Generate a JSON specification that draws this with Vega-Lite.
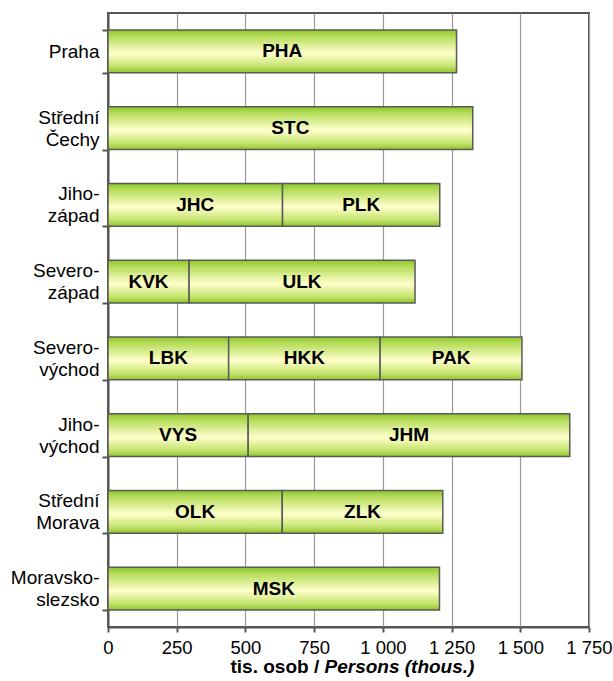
{
  "$schema": "https://vega.github.io/schema/vega-lite/v6.json",
  "width": 481,
  "height": 614,
  "autosize": "none",
  "padding": {"left": 108, "top": 13, "right": 24, "bottom": 54},
  "background": "white",
  "config": {
    "view": {"stroke": "#555555", "strokeWidth": 2},
    "font": "Liberation Sans",
    "axis": {"labelColor": "black", "titleColor": "black", "labelFont": "Liberation Sans", "titleFont": "Liberation Sans"}
  },
  "data": {
    "values": [
      {"region": "Praha", "code": "PHA", "value": 1268, "ord": 1},
      {"region": "Střední|Čechy", "code": "STC", "value": 1327, "ord": 1},
      {"region": "Jiho-|západ", "code": "JHC", "value": 635, "ord": 1},
      {"region": "Jiho-|západ", "code": "PLK", "value": 572, "ord": 2},
      {"region": "Severo-|západ", "code": "KVK", "value": 295, "ord": 1},
      {"region": "Severo-|západ", "code": "ULK", "value": 822, "ord": 2},
      {"region": "Severo-|východ", "code": "LBK", "value": 439, "ord": 1},
      {"region": "Severo-|východ", "code": "HKK", "value": 551, "ord": 2},
      {"region": "Severo-|východ", "code": "PAK", "value": 516, "ord": 3},
      {"region": "Jiho-|východ", "code": "VYS", "value": 510, "ord": 1},
      {"region": "Jiho-|východ", "code": "JHM", "value": 1170, "ord": 2},
      {"region": "Střední|Morava", "code": "OLK", "value": 634, "ord": 1},
      {"region": "Střední|Morava", "code": "ZLK", "value": 584, "ord": 2},
      {"region": "Moravsko-|slezsko", "code": "MSK", "value": 1206, "ord": 1}
    ]
  },
  "transform": [
    {"stack": "value", "groupby": ["region"], "sort": [{"field": "ord"}], "as": ["v0", "v1"]},
    {"calculate": "(datum.v0 + datum.v1) / 2", "as": "mid"}
  ],
  "resolve": {"axis": {"x": "independent"}},
  "layer": [
    {
      "mark": {
        "type": "bar",
        "fill": {
          "gradient": "linear", "x1": 0, "y1": 0, "x2": 0, "y2": 1,
          "stops": [
            {"offset": 0, "color": "#8cc628"},
            {"offset": 0.15, "color": "#b5dc5a"},
            {"offset": 0.55, "color": "#ffffcc"},
            {"offset": 0.85, "color": "#c4e36e"},
            {"offset": 1, "color": "#8cc628"}
          ]
        },
        "stroke": "#5a5a5a",
        "strokeWidth": 1.5
      },
      "encoding": {
        "y": {
          "field": "region", "type": "nominal",
          "sort": ["Praha", "Střední|Čechy", "Jiho-|západ", "Severo-|západ", "Severo-|východ", "Jiho-|východ", "Střední|Morava", "Moravsko-|slezsko"],
          "scale": {"paddingInner": 0.44, "paddingOuter": 0.22},
          "axis": {
            "title": null,
            "labelExpr": "datum.value ? split(datum.value, '|') : ''",
            "labelFontSize": 19,
            "labelLineHeight": 22,
            "labelAlign": "right",
            "labelBaseline": "middle",
            "labelPadding": 3,
            "labelOffset": {"condition": {"test": "datum.value == 'Praha'", "value": 0}, "value": -11},
            "tickBand": "extent",
            "tickSize": 6,
            "tickColor": "#555555",
            "tickWidth": 2,
            "domainColor": "#555555",
            "domainWidth": 2,
            "grid": false
          }
        },
        "x": {
          "field": "v0", "type": "quantitative",
          "scale": {"domain": [0, 1750], "nice": false},
          "axis": {
            "orient": "bottom",
            "values": [0, 250, 500, 750, 1000, 1250, 1500, 1750],
            "labelExpr": "replace(format(datum.value, ','), ',', ' ')",
            "labelFontSize": 18.5,
            "labelPadding": 6,
            "labelOverlap": false,
            "labelFlush": false,
            "tickSize": 5,
            "tickColor": "#555555",
            "tickWidth": 2,
            "domainColor": "#555555",
            "domainWidth": 2,
            "grid": true,
            "gridColor": "#999999",
            "gridWidth": 1.2,
            "title": "tis. osob / ",
            "titleFontSize": 19,
            "titleFontWeight": "bold",
            "titleAlign": "left",
            "titleBaseline": "alphabetic",
            "titleX": 122,
            "titleY": 45
          }
        },
        "x2": {"field": "v1"}
      }
    },
    {
      "mark": {"type": "text", "fontWeight": "bold", "fontSize": 19, "color": "black", "font": "Liberation Sans"},
      "encoding": {
        "y": {
          "field": "region", "type": "nominal",
          "sort": ["Praha", "Střední|Čechy", "Jiho-|západ", "Severo-|západ", "Severo-|východ", "Jiho-|východ", "Střední|Morava", "Moravsko-|slezsko"]
        },
        "x": {
          "field": "mid", "type": "quantitative",
          "axis": {
            "orient": "bottom",
            "labels": false,
            "ticks": false,
            "domain": false,
            "grid": false,
            "title": "Persons (thous.)",
            "titleFontSize": 19,
            "titleFontWeight": "bold",
            "titleFontStyle": "italic",
            "titleAlign": "left",
            "titleBaseline": "alphabetic",
            "titleX": 216,
            "titleY": 45
          }
        },
        "text": {"field": "code"}
      }
    }
  ]
}
